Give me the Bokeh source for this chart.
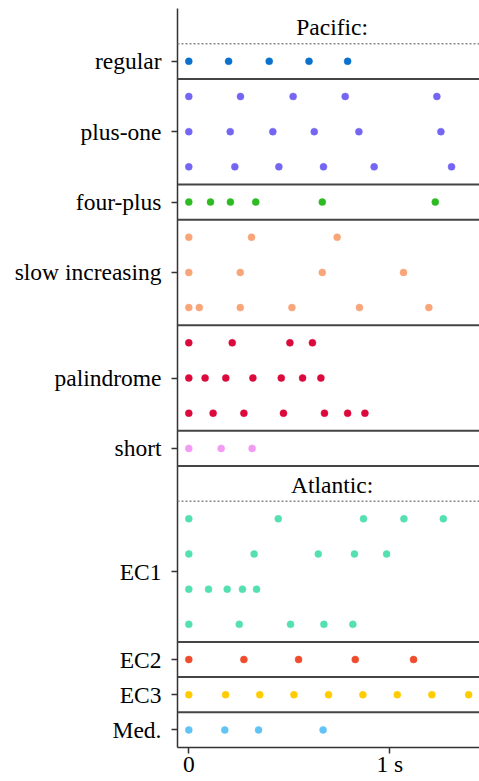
from bokeh.plotting import figure
from bokeh.models import Range1d, Span, FixedTicker, ColumnDataSource, Label
from bokeh.embed import file_html
from bokeh.resources import INLINE

# ---- data: onset times (s) of each rhythm row ----
regular = [[0, 0.198, 0.40, 0.598, 0.79]]
plus_one = [[0, 0.257, 0.519, 0.778, 1.234],
            [0, 0.206, 0.418, 0.624, 0.846, 1.254],
            [0, 0.229, 0.448, 0.670, 0.922, 1.307]]
four_plus = [[0, 0.108, 0.207, 0.333, 0.664, 1.226]]
slow_increasing = [[0, 0.312, 0.738],
                   [0, 0.256, 0.664, 1.068],
                   [0, 0.052, 0.256, 0.513, 0.849, 1.194]]
palindrome = [[0, 0.216, 0.503, 0.615],
              [0, 0.081, 0.184, 0.319, 0.460, 0.566, 0.657],
              [0, 0.121, 0.274, 0.471, 0.675, 0.790, 0.876]]
short = [[0, 0.161, 0.315]]
ec1 = [[0, 0.445, 0.869, 1.070, 1.266],
       [0, 0.325, 0.644, 0.824, 0.984],
       [0, 0.098, 0.191, 0.267, 0.337],
       [0, 0.251, 0.506, 0.672, 0.816]]
ec2 = [[0, 0.274, 0.546, 0.828, 1.118]]
ec3 = [[0, 0.183, 0.353, 0.523, 0.695, 0.866, 1.037, 1.209, 1.392]]
med = [[0, 0.179, 0.347, 0.668]]

section_titles = ["Pacific:", "Atlantic:"]
pacific = [("regular", regular, "#0a72cc"),
           ("plus-one", plus_one, "#7466f2"),
           ("four-plus", four_plus, "#2dbb22"),
           ("slow increasing", slow_increasing, "#f9a57a"),
           ("palindrome", palindrome, "#dc0a3c"),
           ("short", short, "#f39af3")]
atlantic = [("EC1", ec1, "#55e0b2"),
            ("EC2", ec2, "#ee4c2c"),
            ("EC3", ec3, "#ffcc00"),
            ("Med.", med, "#62c4f5")]
sections = [pacific, atlantic]
x_ticks = [0, 1]
x_tick_labels = ["0", "1 s"]

# ---- layout in half-slot units (each row = 2 units) ----
U = 2
slot = 0
ticks, overrides = [], {}
solid, dotted, titles = [], [], []
xs, ys, cs = [], [], []
for title, groups in zip(section_titles, sections):
    titles.append((title, slot + U / 2))
    slot += U
    dotted.append(slot)
    for i, (name, rows, color) in enumerate(groups):
        if i > 0:
            solid.append(slot)
        start = slot
        for r in rows:
            for t in r:
                xs.append(t)
                ys.append(slot + U / 2)
                cs.append(color)
            slot += U
        c = (start + slot) // 2
        ticks.append(c)
        overrides[c] = name
    solid.append(slot)
total = slot
solid = [s for s in solid if s < total]

FONT = "Liberation Serif"
FS = "23.5px"
p = figure(width=479, height=781, output_backend="svg", toolbar_location=None,
           x_range=Range1d(-0.0562, 1.446), y_range=Range1d(total, 0),
           min_border_left=177, min_border_right=0, min_border_top=8,
           min_border_bottom=34)
p.outline_line_color = None
p.xgrid.visible = False
p.ygrid.visible = False

for s in solid:
    p.add_layout(Span(location=s, dimension="width", line_color="#444444", line_width=2))
for s in dotted:
    p.add_layout(Span(location=s, dimension="width", line_color="#8a8a8a",
                      line_width=1.5, line_dash="2 2"))

src = ColumnDataSource(dict(x=xs, y=ys, c=cs))
p.scatter("x", "y", source=src, size=7, fill_color="c", line_color="c", line_alpha=0.5)

for title, y in titles:
    p.add_layout(Label(x=0.713, y=y, text=title, y_offset=-1,
                       text_align="center", text_baseline="middle",
                       text_font=FONT, text_font_size=FS, text_color="black"))

ya = p.yaxis[0]
ya.ticker = FixedTicker(ticks=ticks)
ya.major_label_overrides = overrides
ya.minor_tick_line_color = None
ya.major_tick_in = 0
ya.major_tick_out = 6
ya.major_label_standoff = 10
ya.axis_line_color = "#333333"
ya.axis_line_width = 1.5
ya.major_tick_line_color = "#333333"
ya.major_tick_line_width = 1.5
ya.major_label_text_font = FONT
ya.major_label_text_font_size = FS
ya.major_label_text_color = "black"

xa = p.xaxis[0]
xa.ticker = FixedTicker(ticks=x_ticks)
xa.major_label_overrides = dict(zip(x_ticks, x_tick_labels))
xa.minor_tick_line_color = None
xa.major_tick_in = 0
xa.major_tick_out = 6
xa.major_label_standoff = -3
xa.axis_line_color = "#333333"
xa.axis_line_width = 1.5
xa.major_tick_line_color = "#333333"
xa.major_tick_line_width = 1.5
xa.major_label_text_font = FONT
xa.major_label_text_font_size = FS
xa.major_label_text_line_height = 1.0
xa.major_label_text_color = "black"

open("out.html", "w").write(file_html(p, INLINE))
